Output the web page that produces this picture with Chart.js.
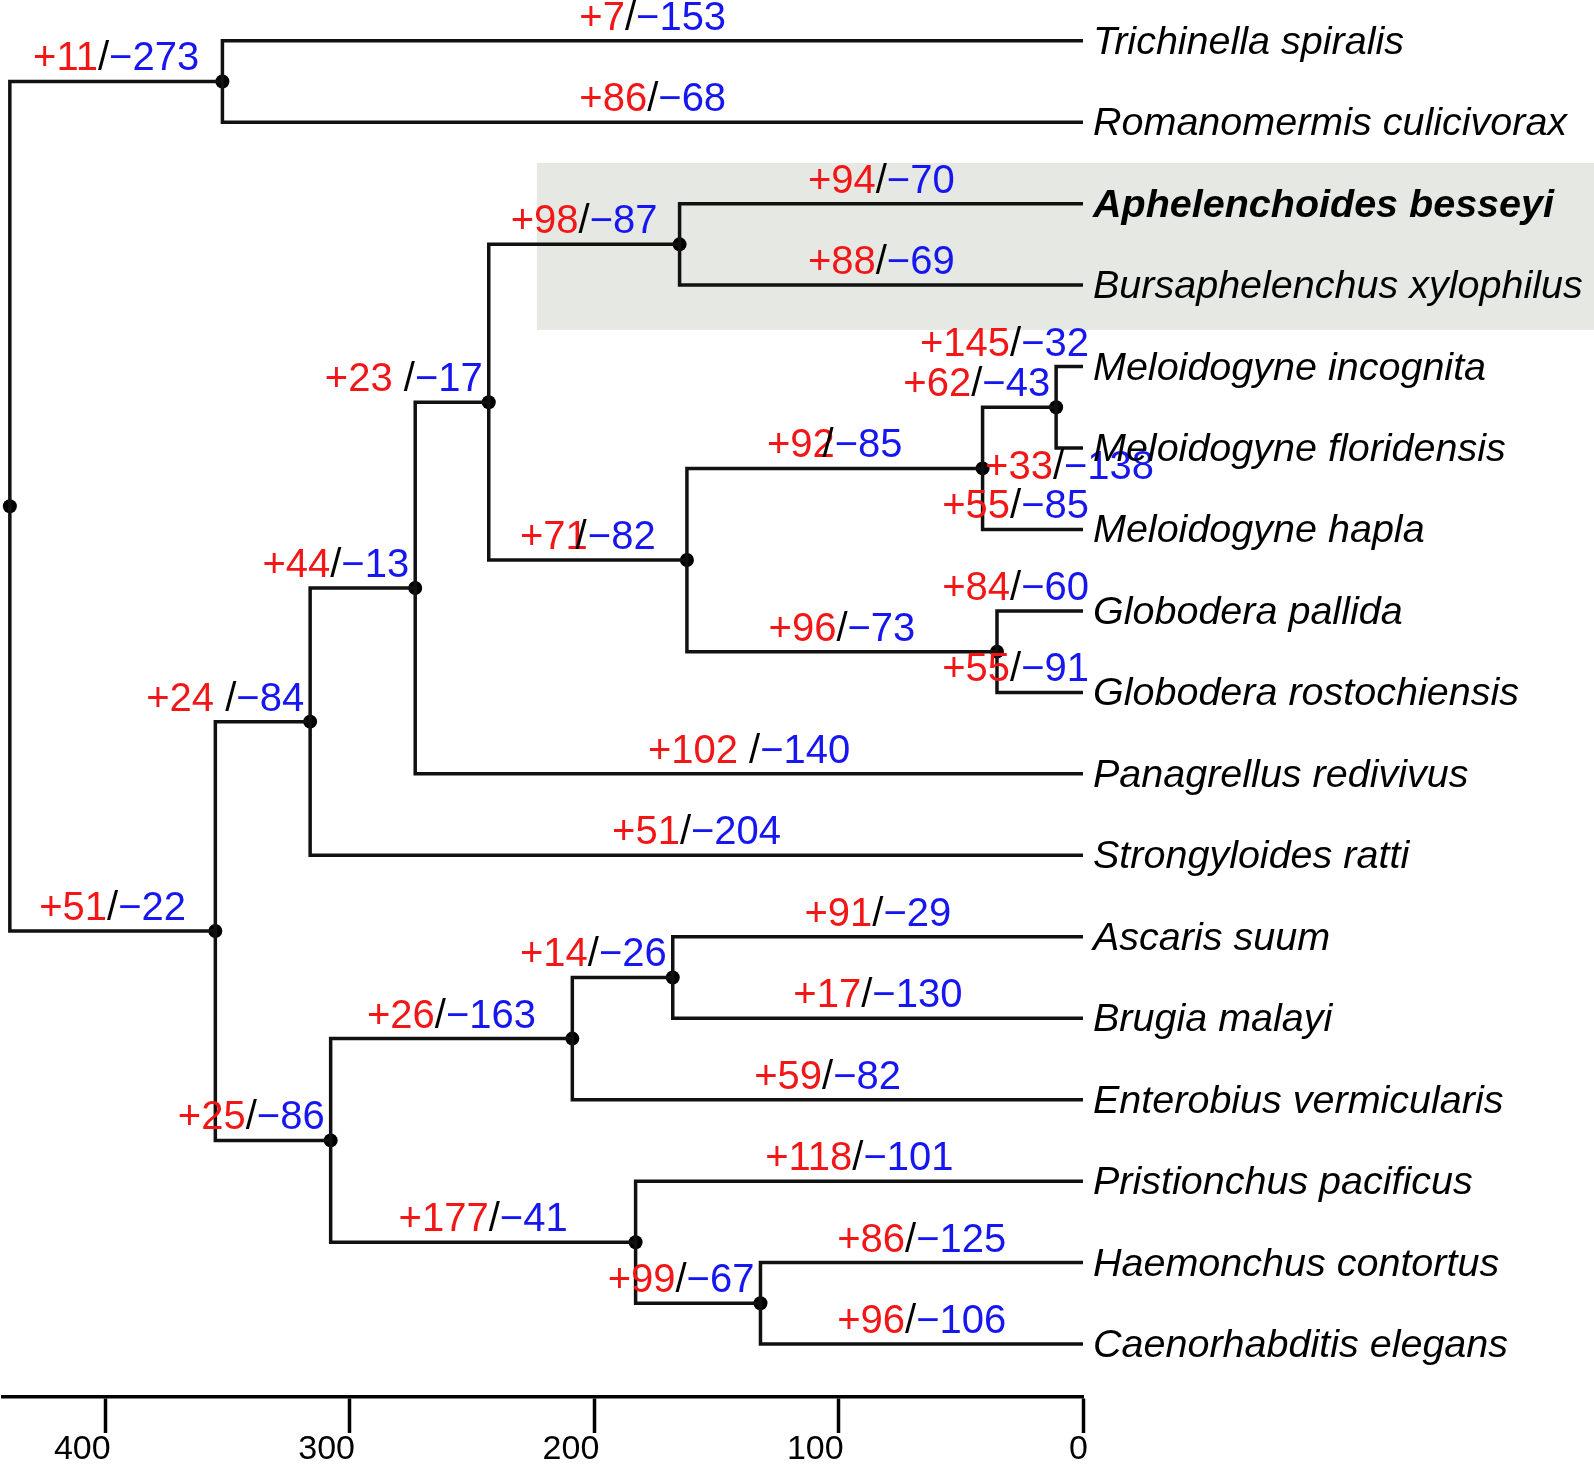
<!DOCTYPE html>
<html><head><meta charset="utf-8">
<script src="https://cdn.jsdelivr.net/npm/chart.js@4.4.1/dist/chart.umd.min.js"></script>
<style>html,body{margin:0;padding:0;background:#fff;}#wrap{width:1594px;height:1464px;position:relative;}</style>
</head><body><div id="wrap"><canvas id="c"></canvas></div>
<script>
// ---- data ----
const taxa = ['Trichinella spiralis','Romanomermis culicivorax','Aphelenchoides besseyi','Bursaphelenchus xylophilus',
  'Meloidogyne incognita','Meloidogyne floridensis','Meloidogyne hapla','Globodera pallida','Globodera rostochiensis',
  'Panagrellus redivivus','Strongyloides ratti','Ascaris suum','Brugia malayi','Enterobius vermicularis',
  'Pristionchus pacificus','Haemonchus contortus','Caenorhabditis elegans'];
const boldTaxa = ['Aphelenchoides besseyi'];
const tipGain = [7,86,94,88,145,33,55,84,55,102,51,91,17,59,118,86,96];
const tipLoss = [153,68,70,69,32,138,85,60,91,140,204,29,130,82,101,125,106];
const tipAge = [0,0,0,0,0,0,0,0,0,0,0,0,0,0,0,0,0];

const nodeIds      = ['N1','N2','N9','N11','N10','N8','N3','N7','N5','N4','N6','N15','N13','N12','N16','N14'];
const nodeAge      = [439.2,352.2,355.1,316.3,273.3,243.2,165.1,162.1,41.1,11.0,35.2,307.9,209.0,167.9,183.1,132.0];
const nodeChildren = [['N2','N9'],['t1','t2'],['N11','N15'],['N10','t11'],['N8','t10'],['N3','N7'],['t3','t4'],
  ['N5','N6'],['N4','t7'],['t5','t6'],['t8','t9'],['N13','N16'],['N12','t14'],['t12','t13'],['t15','N14'],['t16','t17']];
const nodeGain = [null,11,51,24,44,23,98,71,92,62,96,25,26,14,177,99];
const nodeLoss = [null,273,22,84,13,17,87,82,85,43,73,86,163,26,41,67];

const tickValues = [400,300,200,100,0];
const spacedLabels = ['N8','N11','t10'];
const overlapSlashLabels = ['N5','N7'];
const belowLabels = ['t6'];
const highlightTips = ['t3','t4'];
const highlightFromAge = 223.5;

// ---- tree structure ----
const info = {};
taxa.forEach((n,i)=>{ info['t'+(i+1)] = {age: tipAge[i], row: i+1, gain: tipGain[i], loss: tipLoss[i], tip:true, name:n}; });
nodeIds.forEach((id,i)=>{ info[id] = {age: nodeAge[i], children: nodeChildren[i], gain: nodeGain[i], loss: nodeLoss[i], tip:false}; });
nodeIds.forEach(id=>info[id].children.forEach(c=>info[c].parent=id));
function rowOf(id){ const n=info[id]; if(n.row!==undefined) return n.row;
  const rs=n.children.map(rowOf); n.row=(Math.min(...rs)+Math.max(...rs))/2; return n.row; }
rowOf('N1');

const branchPts = [];
nodeIds.forEach(id=>{ const n=info[id];
  n.children.forEach(c=>{ const ch=info[c];
    branchPts.push({x:n.age,y:n.row},{x:n.age,y:ch.row},{x:ch.age,y:ch.row},{x:ch.age,y:null});
  });
});
const nodePts = nodeIds.map(id=>({x:info[id].age,y:info[id].row}));

const FONT = '"Liberation Sans", Arial, Helvetica, sans-serif';
const RED = '#f21616', BLUE = '#1616f0';

const treePlugin = {
  id:'tree',
  beforeDatasetsDraw(chart){
    const {ctx, scales:{x:xs,y:ys}} = chart;
    const rows = highlightTips.map(t=>info[t].row);
    const y0 = ys.getPixelForValue(Math.min(...rows)-0.5), y1 = ys.getPixelForValue(Math.max(...rows)+0.55);
    const x0 = xs.getPixelForValue(highlightFromAge);
    ctx.save(); ctx.fillStyle='#e6e8e3'; ctx.fillRect(x0,y0,chart.width-x0,y1-y0); ctx.restore();
  },
  afterDatasetsDraw(chart){
    const {ctx, scales:{x:xs,y:ys}} = chart;
    ctx.save();
    ctx.font = '40px '+FONT; ctx.textBaseline='alphabetic'; ctx.textAlign='left';
    Object.keys(info).forEach(id=>{
      const n = info[id]; if(!n.parent || n.gain===null) return;
      const p = info[n.parent];
      const x1 = xs.getPixelForValue(p.age), x2 = xs.getPixelForValue(n.age), y = ys.getPixelForValue(n.row);
      const g = '+'+n.gain, sl = spacedLabels.includes(id)?' /':'/', l = '\u2212'+n.loss;
      const ov = overlapSlashLabels.includes(id);
      const wg = ctx.measureText(g).width, ws = ctx.measureText(sl).width, wl = ctx.measureText(l).width;
      const w = ov ? wg+wl : wg+ws+wl;
      let c = (x1+x2)/2, base;
      if(belowLabels.includes(id)){ base = y+31; }
      else { base = y-11; const maxR = n.tip ? x2+6 : x2-6; if(c+w/2>maxR) c = maxR-w/2; }
      let xx = c-w/2;
      ctx.fillStyle=RED; ctx.fillText(g,xx,base); xx+=wg;
      if(ov){ ctx.fillStyle='#000'; ctx.fillText(sl,xx-ws*1.1,base); }
      else { ctx.fillStyle='#000'; ctx.fillText(sl,xx,base); xx+=ws; }
      ctx.fillStyle=BLUE; ctx.fillText(l,xx,base);
    });
    taxa.forEach((name,i)=>{
      const id='t'+(i+1);
      ctx.font = (boldTaxa.includes(name)?'italic bold ':'italic ')+'39.5px '+FONT;
      ctx.fillStyle='#000';
      ctx.fillText(name, xs.getPixelForValue(info[id].age)+10, ys.getPixelForValue(info[id].row)+13);
    });
    ctx.restore();
  }
};

new Chart(document.getElementById('c'),{
  type:'scatter',
  data:{datasets:[
    {data:branchPts, showLine:true, spanGaps:false, borderColor:'#111', borderWidth:3.5, pointRadius:0,
     borderCapStyle:'butt', borderJoinStyle:'miter', clip:false},
    {data:nodePts, showLine:false, pointRadius:7, pointBackgroundColor:'#000', pointBorderWidth:0, clip:false}
  ]},
  options:{
    responsive:true, maintainAspectRatio:false, animation:false, events:[],
    layout:{autoPadding:false, padding:{left:3,right:511,top:0,bottom:0}},
    plugins:{legend:{display:false},tooltip:{enabled:false}},
    scales:{
      x:{type:'linear',reverse:true,min:0,max:442,position:'bottom',
        afterBuildTicks:s=>{s.ticks=tickValues.map(v=>({value:v}));},
        afterFit:s=>{s.height=67;},
        grid:{drawOnChartArea:false,drawTicks:true,tickLength:36,tickWidth:3.5,tickColor:'#000'},
        border:{display:true,color:'#000',width:3.5},
        ticks:{font:{family:FONT,size:34},color:'#000',padding:-4,align:'end',labelOffset:5,maxRotation:0,autoSkip:false}
      },
      y:{type:'linear',reverse:true,min:0.5,max:17.65,display:false}
    }
  },
  plugins:[treePlugin]
});
</script></body></html>
